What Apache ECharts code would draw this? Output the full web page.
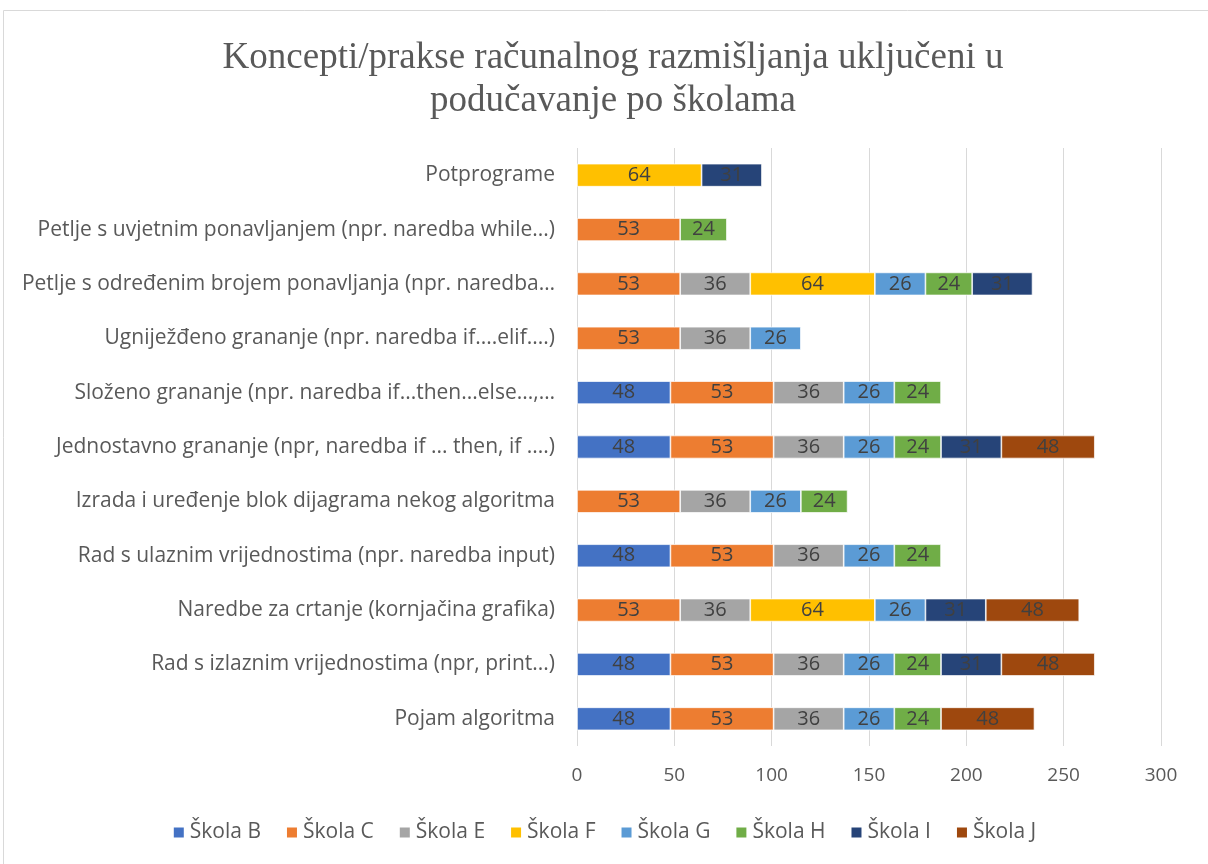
<!DOCTYPE html>
<html>
<head>
<meta charset="utf-8">
<script src="https://cdn.jsdelivr.net/npm/echarts@6/dist/echarts.min.js"></script>
<style>
  html, body { margin: 0; padding: 0; background: #fff; }
  #chart { width: 1208px; height: 864px; }
</style>
</head>
<body>
<div id="chart"></div>
<script>
// kategorije, odozgo prema dolje
const categories = [
  'Potprograme',
  'Petlje s uvjetnim ponavljanjem (npr. naredba while...)',
  'Petlje s određenim brojem ponavljanja (npr. naredba…',
  'Ugniježđeno grananje (npr. naredba if....elif....)',
  'Složeno grananje (npr. naredba if...then...else...,…',
  'Jednostavno grananje (npr, naredba if ... then, if ....)',
  'Izrada i uređenje blok dijagrama nekog algoritma',
  'Rad s ulaznim vrijednostima (npr. naredba input)',
  'Naredbe za crtanje (kornjačina grafika)',
  'Rad s izlaznim vrijednostima (npr, print...)',
  'Pojam algoritma'
]
const skolaB = [null, null, null, null, 48, 48, null, 48, null, 48, 48]
const skolaC = [null, 53, 53, 53, 53, 53, 53, 53, 53, 53, 53]
const skolaE = [null, null, 36, 36, 36, 36, 36, 36, 36, 36, 36]
const skolaF = [64, null, 64, null, null, null, null, null, 64, null, null]
const skolaG = [null, null, 26, 26, 26, 26, 26, 26, 26, 26, 26]
const skolaH = [null, 24, 24, null, 24, 24, 24, 24, null, 24, 24]
const skolaI = [31, null, 31, null, null, 31, null, null, 31, 31, null]
const skolaJ = [null, null, null, null, null, 48, null, null, 48, 48, 48]
const xTicks = [0, 50, 100, 150, 200, 250, 300]

const seriesDefs = [
  ['Škola B', skolaB, '#4472C4'],
  ['Škola C', skolaC, '#ED7D31'],
  ['Škola E', skolaE, '#A5A5A5'],
  ['Škola F', skolaF, '#FFC000'],
  ['Škola G', skolaG, '#5B9BD5'],
  ['Škola H', skolaH, '#70AD47'],
  ['Škola I', skolaI, '#264478'],
  ['Škola J', skolaJ, '#9E480E']
]

const font = '"Open Sans", "Liberation Sans", Arial, sans-serif'

const chart = echarts.init(document.getElementById('chart'))
chart.setOption({
  animation: false,
  textStyle: { fontFamily: font },
  graphic: [{
    type: 'rect',
    shape: { x: 3.5, y: 10.5, width: 1220, height: 880 },
    style: { fill: 'none', stroke: '#d9d9d9', lineWidth: 1 }
  }],
  title: {
    text: 'Koncepti/prakse računalnog razmišljanja uključeni u\npodučavanje po školama',
    left: 608,
    textAlign: 'center',
    top: 32,
    textStyle: {
      fontFamily: '"Liberation Serif", "Times New Roman", serif',
      fontSize: 37,
      fontWeight: 'normal',
      color: '#595959',
      lineHeight: 43
    }
  },
  legend: {
    top: 817,
    left: 'center',
    itemWidth: 12,
    itemHeight: 12,
    itemGap: 24,
    icon: 'rect',
    textStyle: { fontSize: 21, color: '#595959' },
    data: seriesDefs.map(d => d[0])
  },
  grid: { left: 577, right: 47, top: 148, bottom: 118, containLabel: false },
  xAxis: {
    type: 'value',
    min: xTicks[0],
    max: xTicks[xTicks.length - 1],
    interval: 50,
    axisLine: { show: false },
    axisTick: { show: false },
    axisLabel: { fontSize: 19, color: '#595959', margin: 20 },
    splitLine: { lineStyle: { color: '#d9d9d9', width: 1 } }
  },
  yAxis: {
    type: 'category',
    inverse: true,
    data: categories,
    axisLine: { show: false },
    axisTick: { show: false },
    axisLabel: { fontSize: 21, color: '#595959', margin: 22 }
  },
  series: seriesDefs.map(([name, data, color]) => ({
    name,
    type: 'bar',
    stack: 'ukupno',
    data,
    barWidth: 23,
    itemStyle: { color, borderColor: '#fff', borderWidth: 0.7 },
    label: {
      show: true,
      position: 'inside',
      fontSize: 20,
      color: '#404040'
    }
  }))
})
window.addEventListener('resize', () => chart.resize())
</script>
</body>
</html>
